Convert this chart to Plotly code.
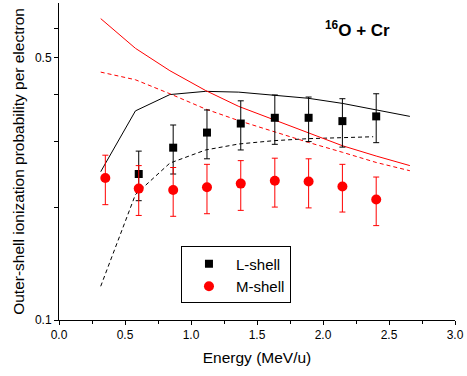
import plotly.graph_objects as go

# Experimental data
energy_L = [0.604, 0.865, 1.121, 1.377, 1.635, 1.891, 2.147, 2.403]
prob_L = [0.245, 0.288, 0.316, 0.334, 0.346, 0.346, 0.339, 0.349]
err_L = [0.037, 0.043, 0.047, 0.050, 0.052, 0.047, 0.050, 0.052]

energy_M = [0.351, 0.604, 0.865, 1.121, 1.377, 1.635, 1.891, 2.147, 2.403]
prob_M = [0.239, 0.224, 0.222, 0.226, 0.231, 0.235, 0.234, 0.227, 0.2095]
err_M = [0.036, 0.034, 0.033, 0.034, 0.035, 0.035, 0.035, 0.033, 0.031]

# Theory curves
theory_x = [0.316, 0.579, 0.840, 1.111, 1.362, 1.625, 1.889, 2.147, 2.403, 2.658]
L_solid = [0.2485, 0.361, 0.399, 0.407, 0.405, 0.398, 0.390, 0.378, 0.364, 0.349]
M_solid = [0.636, 0.530, 0.462, 0.409, 0.371, 0.342, 0.315, 0.2915, 0.2736, 0.258]
M_dash = [0.458, 0.437, 0.401, 0.365, 0.340, 0.318, 0.2975, 0.280, 0.263, 0.250]
L_dash_x = [0.316, 0.579, 0.840, 1.111, 1.362, 1.625, 1.889, 2.147, 2.38]
L_dash = [0.123, 0.216, 0.262, 0.284, 0.2946, 0.3006, 0.3044, 0.307, 0.308]

x_ticks = [0, 0.5, 1.0, 1.5, 2.0, 2.5, 3.0]
x_ticktext = ["0.0", "0.5", "1.0", "1.5", "2.0", "2.5", "3.0"]
y_ticks = [0.1, 0.2, 0.3, 0.4, 0.5, 0.6]
y_ticktext = ["0.1", "", "", "", "0.5", ""]

fig = go.Figure()
fig.add_trace(go.Scatter(x=theory_x, y=L_solid, mode="lines",
                         line=dict(color="black", width=1), showlegend=False))
fig.add_trace(go.Scatter(x=L_dash_x, y=L_dash, mode="lines",
                         line=dict(color="black", width=1, dash="4px,3px"), showlegend=False))
fig.add_trace(go.Scatter(x=theory_x, y=M_solid, mode="lines",
                         line=dict(color="red", width=1), showlegend=False))
fig.add_trace(go.Scatter(x=theory_x, y=M_dash, mode="lines",
                         line=dict(color="red", width=1, dash="4px,3px"), showlegend=False))
fig.add_trace(go.Scatter(x=energy_L, y=prob_L, mode="markers", name="L-shell",
                         marker=dict(symbol="square", color="black", size=8),
                         error_y=dict(type="data", array=err_L, color="black",
                                      thickness=1, width=3)))
fig.add_trace(go.Scatter(x=energy_M, y=prob_M, mode="markers", name="M-shell",
                         marker=dict(symbol="circle", color="red", size=10),
                         error_y=dict(type="data", array=err_M, color="red",
                                      thickness=1, width=3)))

fig.add_annotation(x=0.755, y=0.918, xref="paper", yref="paper",
                   text="<b><sup>16</sup>O + Cr</b>", showarrow=False,
                   font=dict(family="Arial, Liberation Sans", size=17, color="black"),
                   xanchor="center", yanchor="middle")

fig.update_layout(
    width=467, height=376,
    margin=dict(l=59, r=9, t=3, b=56),
    paper_bgcolor="white", plot_bgcolor="white",
    font=dict(family="Arial, Liberation Sans", size=12, color="black"),
    legend=dict(x=0.308, y=0.232, xanchor="left", yanchor="top",
                bordercolor="black", borderwidth=1, bgcolor="white",
                font=dict(size=15), itemwidth=44),
    xaxis=dict(range=[0, 3], tickvals=x_ticks, ticktext=x_ticktext,
               ticks="outside", ticklen=4, tickcolor="black",
               showline=True, linecolor="black", linewidth=1,
               showgrid=False, zeroline=False,
               minor=dict(tickvals=[0.25, 0.75, 1.25, 1.75, 2.25, 2.75],
                          ticks="outside", ticklen=3, tickcolor="black"),
               title=dict(text="Energy (MeV/u)", font=dict(size=15.5), standoff=10)),
    yaxis=dict(type="log", range=[-1, -0.1549],
               tickvals=y_ticks, ticktext=y_ticktext,
               ticks="outside", ticklen=4, tickcolor="black",
               showline=True, linecolor="black", linewidth=1,
               showgrid=False, zeroline=False,
               title=dict(text="Outer-shell ionization probability per electron",
                          font=dict(size=15.5), standoff=6)),
)

fig.write_html("out.html")
